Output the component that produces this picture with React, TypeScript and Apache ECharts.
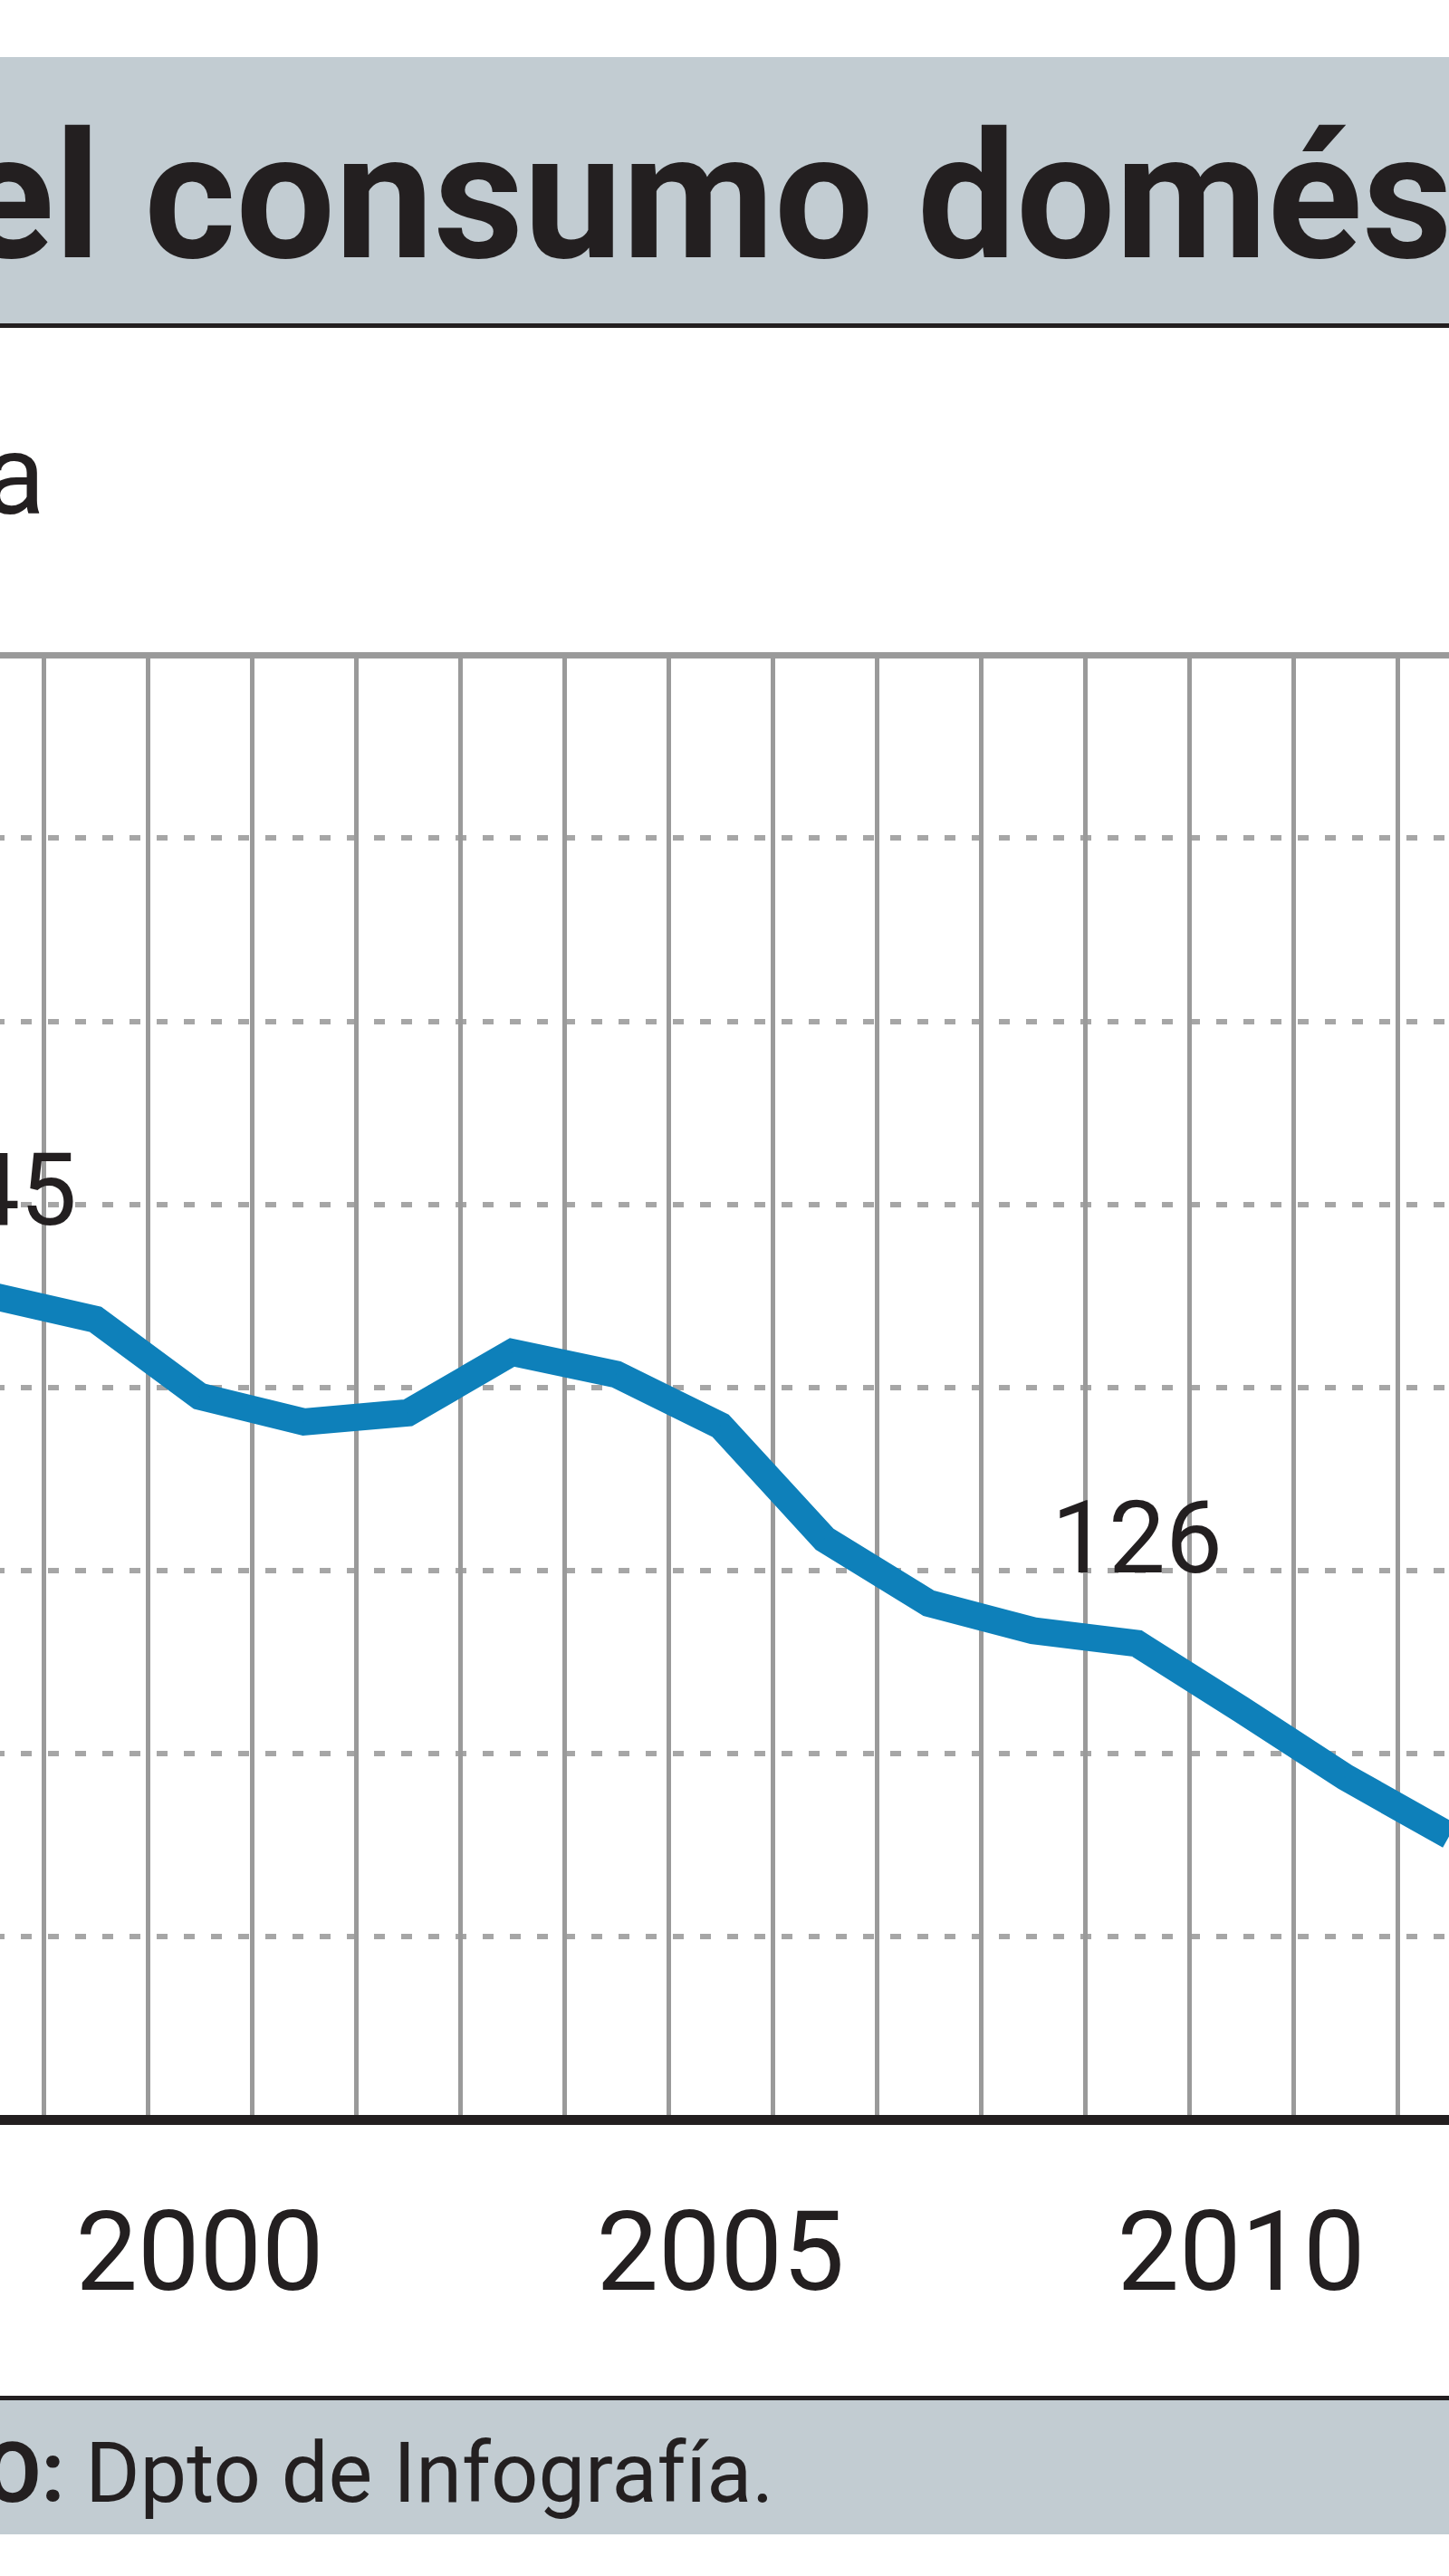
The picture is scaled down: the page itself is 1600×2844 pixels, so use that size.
import * as echarts from "echarts";
import { useEffect, useRef } from "react";
import { EChartsOption } from "echarts";

// consumo doméstico (litros por habitante y día)
const years = [
  "1998", "1999", "2000", "2001", "2002", "2003", "2004", "2005",
  "2006", "2007", "2008", "2009", "2010", "2011", "2012",
];
const consumo = [
  145, 143.7, 139.5, 138.1, 138.6, 141.9, 140.7, 137.9,
  131.7, 128.2, 126.7, 126, 122.4, 118.7, 115.5,
];
const labeledYears = ["1998", "2009"];
const xLabelYears = ["2000", "2005", "2010"];

const titleText = "el consumo domés";
const subtitleText = "a";
const sourceLabel = "O:";
const sourceText = "Dpto de Infografía.";

const INK = "#231f20";
const BAND = "#c2ccd2";
const BLUE = "#0e80ba";
const FONT = "Roboto, 'Noto Sans', sans-serif";

const App = () => {
  const chartRef = useRef(null);

  useEffect(() => {
    document.body.style.margin = "0";
    const chartDom = chartRef.current;
    const myChart = echarts.init(chartDom, null, { renderer: "svg" });

    const option: EChartsOption = {
      animation: false,
      backgroundColor: "#ffffff",
      textStyle: { fontFamily: FONT },
      grid: {
        left: -67,
        right: -58,
        top: 723,
        bottom: 504,
        containLabel: false,
        outerBoundsMode: "none",
      } as any,
      xAxis: [
        {
          type: "category",
          data: years,
          boundaryGap: true,
          axisLine: { onZero: false, lineStyle: { color: INK, width: 11 } },
          axisTick: { show: false },
          axisLabel: {
            interval: (_i: number, value: string) => xLabelYears.includes(value),
            margin: 85,
            fontSize: 122,
            color: INK,
            fontFamily: FONT,
          },
          splitLine: {
            show: true,
            interval: 0,
            lineStyle: { color: "#9a9a9a", width: 5 },
          },
        },
        {
          type: "category",
          data: years,
          position: "top",
          boundaryGap: true,
          axisLine: { lineStyle: { color: "#9a9a9a", width: 7 } },
          axisTick: { show: false },
          axisLabel: { show: false },
          splitLine: { show: false },
        },
      ],
      yAxis: {
        type: "value",
        min: 100,
        max: 180,
        interval: 10,
        axisLine: { show: false },
        axisTick: { show: false },
        axisLabel: { show: false },
        splitLine: {
          show: true,
          lineStyle: { color: "#a6a6a6", width: 6, type: [12, 18] },
        },
      },
      series: [
        {
          type: "line",
          xAxisIndex: 0,
          data: consumo.map((v, i) => ({
            value: v,
            label: { show: labeledYears.includes(years[i]) },
          })),
          symbol: "circle",
          symbolSize: 1,
          showSymbol: true,
          showAllSymbol: true,
          itemStyle: { color: BLUE },
          lineStyle: { color: BLUE, width: 30, join: "miter" } as any,
          label: {
            show: false,
            position: "top",
            distance: 60,
            fontSize: 112,
            color: INK,
            fontFamily: FONT,
            formatter: "{c}",
          },
          labelLayout: { hideOverlap: false },
          z: 5,
        },
      ],
      graphic: [
        {
          type: "rect",
          shape: { x: 0, y: 63, width: 1600, height: 294 },
          style: { fill: BAND },
          silent: true,
        },
        {
          type: "rect",
          shape: { x: 0, y: 357, width: 1600, height: 5 },
          style: { fill: INK },
          silent: true,
        },
        {
          type: "text",
          x: -45,
          y: 217,
          style: {
            text: titleText,
            fontSize: 194,
            fontWeight: "bold",
            fontFamily: FONT,
            fill: INK,
            align: "left",
            verticalAlign: "middle",
          },
          silent: true,
        },
        {
          type: "text",
          x: 50,
          y: 524,
          style: {
            text: subtitleText,
            fontSize: 125,
            fontFamily: FONT,
            fill: INK,
            align: "right",
            verticalAlign: "middle",
          },
          silent: true,
        },
        {
          type: "rect",
          shape: { x: 0, y: 2645, width: 1600, height: 5 },
          style: { fill: INK },
          silent: true,
        },
        {
          type: "rect",
          shape: { x: 0, y: 2650, width: 1600, height: 148 },
          style: { fill: BAND },
          silent: true,
        },
        {
          type: "text",
          x: -18,
          y: 2730,
          style: {
            text: `{b|${sourceLabel}} {r|${sourceText}}`,
            fontFamily: FONT,
            fontSize: 92,
            fill: INK,
            align: "left",
            verticalAlign: "middle",
            rich: {
              b: { fontSize: 92, fontWeight: "bold", fontFamily: FONT, fill: INK },
              r: { fontSize: 92, fontFamily: FONT, fill: INK },
            },
          } as any,
          silent: true,
        },
      ],
    };

    myChart.setOption(option);
    return () => {
      myChart.dispose();
    };
  }, []);

  return <div ref={chartRef} style={{ width: "1600px", height: "2844px" }} />;
};

export default App;
